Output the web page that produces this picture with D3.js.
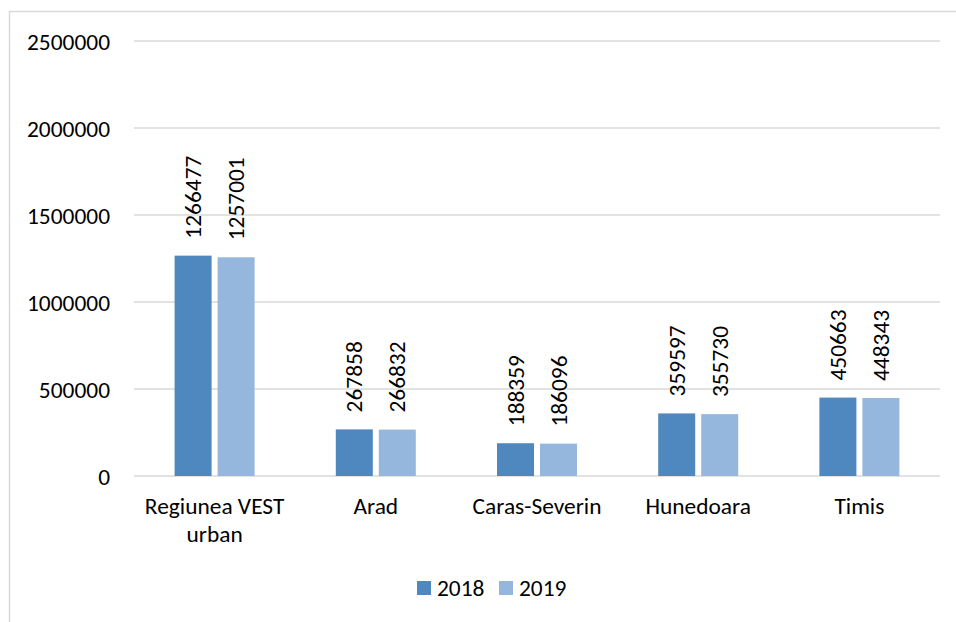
<!DOCTYPE html>
<html>
<head>
<meta charset="utf-8">
<script src="https://cdn.jsdelivr.net/npm/d3@7"></script>
<style>
  body { margin: 0; background: #fff; }
  svg text { font-family: Carlito, Calibri, "Open Sans", sans-serif; fill: #000; }
</style>
</head>
<body>
<div id="chart"></div>
<script>
var categories = ["Regiunea VEST urban", "Arad", "Caras-Severin", "Hunedoara", "Timis"];
var seriesNames = ["2018", "2019"];
var values2018 = [1266477, 267858, 188359, 359597, 450663];
var values2019 = [1257001, 266832, 186096, 355730, 448343];
var yTicks = [0, 500000, 1000000, 1500000, 2000000, 2500000];
var colors = ["#4f88bf", "#95b7de"];

var width = 956, height = 622;
var margin = { top: 41, right: 16, bottom: 146, left: 134 };
var plotW = width - margin.left - margin.right;
var plotH = height - margin.top - margin.bottom;
var fs = "23.4px";

var svg = d3.select("#chart").append("svg")
  .attr("width", width)
  .attr("height", height);

// outer frame (left + top edges visible)
svg.append("path")
  .attr("d", "M9.5,622 L9.5,11.5 L956,11.5")
  .attr("fill", "none")
  .attr("stroke", "#d9d9d9")
  .attr("stroke-width", 1.5);

var g = svg.append("g").attr("transform", `translate(${margin.left},${margin.top})`);

var x = d3.scaleBand().domain(categories).range([0, plotW]);
var y = d3.scaleLinear().domain([0, 2500000]).range([plotH, 0]);

// gridlines
g.append("g")
  .selectAll("line")
  .data(yTicks)
  .enter()
  .append("line")
  .attr("x1", 0)
  .attr("x2", plotW)
  .attr("y1", (d) => y(d))
  .attr("y2", (d) => y(d))
  .attr("stroke", "#d9d9d9")
  .attr("stroke-width", 1.5);

// y axis labels
var yAxis = g.append("g")
  .call(d3.axisLeft(y).tickValues(yTicks).tickSize(0).tickPadding(24).tickFormat(d3.format("d")));
yAxis.select(".domain").remove();
yAxis.selectAll("text").style("font-size", fs).attr("dy", "0.35em");

// x axis labels (wrapped)
var xLabels = g.append("g").attr("transform", `translate(0,${plotH})`);
var wrapped = { "Regiunea VEST urban": ["Regiunea VEST", "urban"] };
categories.forEach(function (c) {
  var lines = wrapped[c] || [c];
  var t = xLabels.append("text")
    .attr("x", x(c) + x.bandwidth() / 2)
    .attr("y", 38)
    .attr("text-anchor", "middle")
    .style("font-size", fs);
  lines.forEach(function (l, i) {
    t.append("tspan")
      .attr("x", x(c) + x.bandwidth() / 2)
      .attr("dy", i === 0 ? 0 : 28)
      .text(l);
  });
});

// bars
var barW = 37, gap = 6;
var series = [values2018, values2019];
series.forEach(function (vals, si) {
  var offset = si === 0 ? -gap / 2 - barW : gap / 2;
  var data = categories.map((c, i) => ({ c: c, v: vals[i] }));
  g.selectAll(".bar" + si)
    .data(data)
    .enter()
    .append("rect")
    .attr("x", (d) => x(d.c) + x.bandwidth() / 2 + offset)
    .attr("y", (d) => y(d.v))
    .attr("width", barW)
    .attr("height", (d) => plotH - y(d.v))
    .attr("fill", colors[si]);

  // value labels, rotated
  g.selectAll(".lbl" + si)
    .data(data)
    .enter()
    .append("text")
    .attr("transform", (d) => `translate(${x(d.c) + x.bandwidth() / 2 + offset + barW / 2 + 8},${y(d.v) - 17}) rotate(-90)`)
    .attr("text-anchor", "start")
    .style("font-size", fs)
    .text((d) => d.v);
});

// legend
var legend = svg.append("g").attr("transform", "translate(417,581)");
seriesNames.forEach(function (s, i) {
  var lg = legend.append("g").attr("transform", `translate(${i * 82},0)`);
  lg.append("rect").attr("width", 14).attr("height", 14).attr("fill", colors[i]);
  lg.append("text").attr("x", 20).attr("y", 7).attr("dy", "0.35em").style("font-size", fs).text(s);
});
</script>
</body>
</html>
